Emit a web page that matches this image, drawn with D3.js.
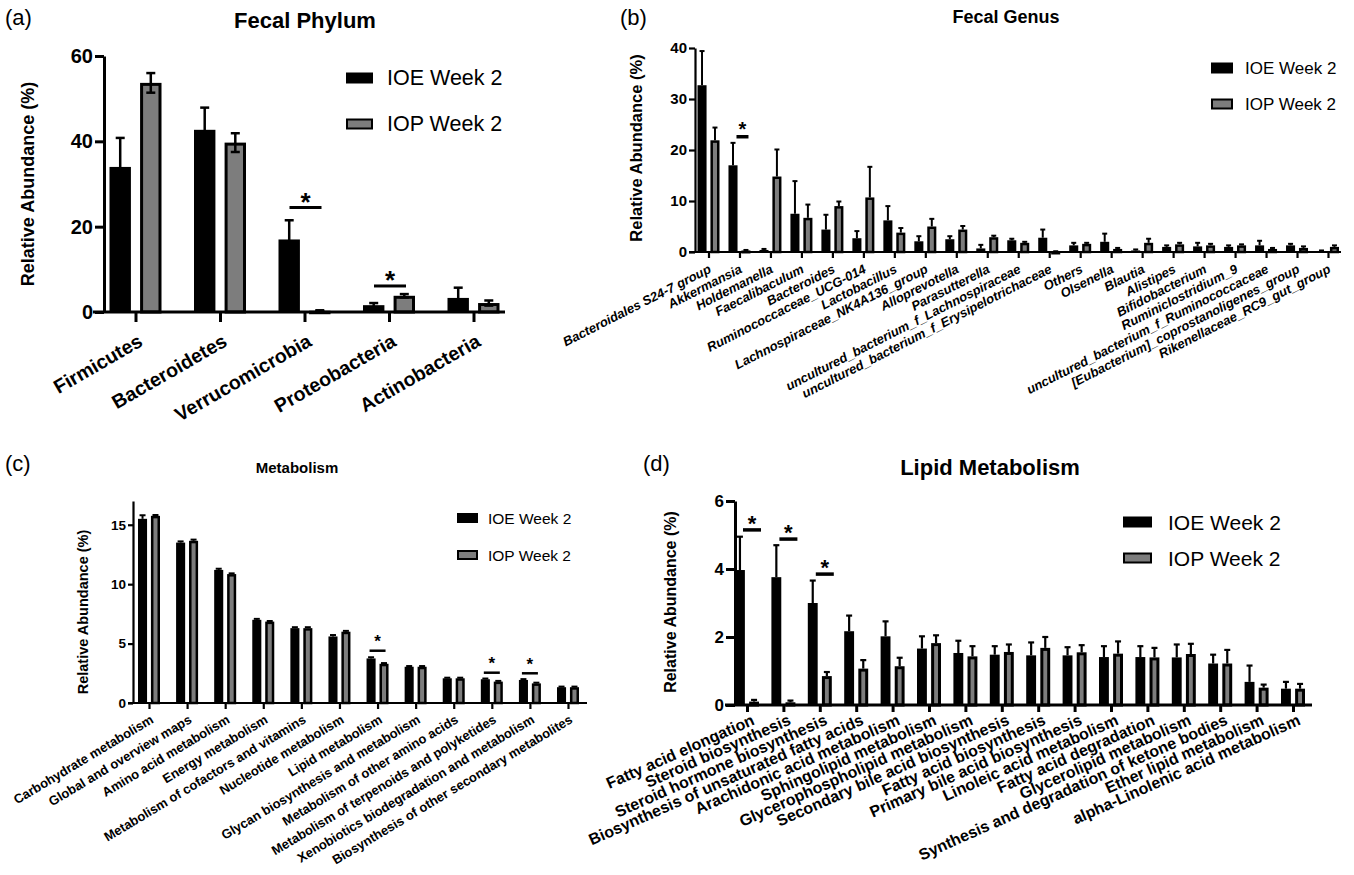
<!DOCTYPE html>
<html>
<head>
<meta charset="utf-8">
<script src="https://cdn.jsdelivr.net/npm/d3@7/dist/d3.min.js"></script>
<style>
  body { margin: 0; background: #fff; }
  svg { font-family: "Liberation Sans", Arial, Helvetica, sans-serif; }
</style>
</head>
<body>
<svg id="fig" width="1354" height="875"></svg>
<script>
var series = ["IOE Week 2", "IOP Week 2"];

// (a) fecal phylum
var phylumCats   = ["Firmicutes", "Bacteroidetes", "Verrucomicrobia", "Proteobacteria", "Actinobacteria"];
var phylumIOE    = [34.0, 42.7, 17.0, 1.6, 3.3];
var phylumIOEErr = [6.8, 5.2, 4.5, 0.5, 2.4];
var phylumIOP    = [53.7, 39.7, 0.3, 3.8, 2.1];
var phylumIOPErr = [2.3, 2.2, 0.1, 0.4, 0.6];
var phylumSig    = [{i: 2, y: 24.5}, {i: 3, y: 6.1}];

// (b) fecal genus
var genusCats = ["Bacteroidales S24-7 group", "Akkermansia", "Holdemanella", "Faecalibaculum", "Bacteroides",
  "Ruminococcaceae_UCG-014", "Lactobacillus", "Lachnospiraceae_NK4A136_group", "Alloprevotella", "Parasutterella",
  "uncultured_bacterium_f_Lachnospiraceae", "uncultured_bacterium_f_Erysipelotrichaceae", "Others", "Olsenella",
  "Blautia", "Alistipes", "Bifidobacterium", "Ruminiclostridium_9", "uncultured_bacterium_f_Ruminococcaceae",
  "[Eubacterium]_coprostanoligenes_group", "Rikenellaceae_RC9_gut_group"];
var genusIOE    = [32.7, 17.0, 0.4, 7.5, 4.4, 2.7, 6.2, 2.1, 2.5, 0.7, 2.3, 2.8, 1.3, 2.0, 0.3, 1.0, 1.1, 1.0, 1.3, 1.3, 0.2];
var genusIOEErr = [6.7, 4.4, 0.2, 6.4, 2.9, 1.4, 2.8, 1.0, 0.6, 0.7, 0.3, 1.6, 0.5, 1.6, 0.2, 0.3, 0.7, 0.3, 0.9, 0.3, 0.1];
var genusIOP    = [21.9, 0.3, 14.8, 6.7, 9.0, 10.7, 3.8, 5.0, 4.4, 2.9, 1.8, 0.1, 1.6, 0.6, 1.8, 1.5, 1.3, 1.3, 0.6, 0.8, 1.0];
var genusIOPErr = [2.5, 0.1, 5.3, 2.6, 0.9, 6.0, 0.9, 1.5, 0.7, 0.3, 0.2, 0.05, 0.2, 0.2, 0.8, 0.3, 0.3, 0.2, 0.2, 0.3, 0.3];
var genusSig    = [{i: 1, y: 22.6}];

// (c) metabolism
var metaCats = ["Carbohydrate metabolism", "Global and overview maps", "Amino acid metabolism", "Energy metabolism",
  "Metabolism of cofactors and vitamins", "Nucleotide metabolism", "Lipid metabolism",
  "Glycan biosynthesis and metabolism", "Metabolism of other amino acids",
  "Metabolism of terpenoids and polyketides", "Xenobiotics biodegradation and metabolism",
  "Biosynthesis of other secondary metabolites"];
var metaIOE    = [15.5, 13.5, 11.2, 7.0, 6.3, 5.6, 3.75, 3.05, 2.08, 2.0, 1.94, 1.33];
var metaIOEErr = [0.3, 0.1, 0.1, 0.08, 0.08, 0.12, 0.1, 0.06, 0.05, 0.06, 0.07, 0.05];
var metaIOP    = [15.75, 13.65, 10.85, 6.85, 6.3, 6.0, 3.3, 3.05, 2.08, 1.8, 1.65, 1.33];
var metaIOPErr = [0.07, 0.1, 0.06, 0.05, 0.08, 0.07, 0.06, 0.06, 0.05, 0.06, 0.06, 0.05];
var metaSig    = [{i: 6, y: 4.4}, {i: 9, y: 2.55}, {i: 10, y: 2.5}];

// (d) lipid metabolism
var lipidCats = ["Fatty acid elongation", "Steroid biosynthesis", "Steroid hormone biosynthesis",
  "Biosynthesis of unsaturated fatty acids", "Arachidonic acid metabolism", "Sphingolipid metabolism",
  "Glycerophospholipid metabolism", "Secondary bile acid biosynthesis", "Fatty acid biosynthesis",
  "Primary bile acid biosynthesis", "Linoleic acid metabolism", "Fatty acid degradation",
  "Glycerolipid metabolism", "Synthesis and degradation of ketone bodies", "Ether lipid metabolism",
  "alpha-Linolenic acid metabolism"];
var lipidIOE    = [3.97, 3.76, 3.0, 2.17, 2.02, 1.66, 1.53, 1.48, 1.46, 1.46, 1.41, 1.41, 1.40, 1.22, 0.68, 0.48];
var lipidIOEErr = [0.98, 0.94, 0.66, 0.46, 0.44, 0.36, 0.36, 0.25, 0.38, 0.24, 0.32, 0.32, 0.38, 0.26, 0.48, 0.2];
var lipidIOP    = [0.1, 0.08, 0.85, 1.07, 1.14, 1.82, 1.43, 1.56, 1.68, 1.55, 1.51, 1.40, 1.50, 1.22, 0.51, 0.48];
var lipidIOPErr = [0.05, 0.05, 0.12, 0.25, 0.25, 0.23, 0.3, 0.22, 0.32, 0.21, 0.36, 0.28, 0.3, 0.4, 0.09, 0.14];
var lipidSig    = [{i: 0, y: 5.15}, {i: 1, y: 4.88}, {i: 2, y: 3.85}];

var GRAY = "#7d7d7d";
var svg = d3.select("#fig");

function drawPanel(o) {
  var g = svg.append("g");
  var y = d3.scaleLinear().domain([0, o.yMax]).range([o.y0, o.y1]);
  var x = d3.scalePoint().domain(o.cats).range([o.xFirst, o.xLast]);
  var x1 = d3.scaleBand().domain(series).range([-o.half, o.half]).paddingInner(o.pad);
  var bw = x1.bandwidth();

  var rows = [];
  o.cats.forEach(function(c, i) {
    rows.push({cat: c, s: series[0], v: o.ioe[i], e: o.ioeErr[i]});
    rows.push({cat: c, s: series[1], v: o.iop[i], e: o.iopErr[i]});
  });

  // bars
  g.selectAll("rect.bar").data(rows).enter().append("rect")
    .attr("class", "bar")
    .attr("x", function(d) { return x(d.cat) + x1(d.s) + (d.s == series[1] ? o.sw / 2 : 0); })
    .attr("width", function(d) { return d.s == series[1] ? Math.max(bw - o.sw, 0.5) : bw; })
    .attr("y", function(d) { return y(d.v) + (d.s == series[1] ? o.sw / 2 : 0); })
    .attr("height", function(d) { return Math.max(o.y0 - y(d.v) - (d.s == series[1] ? o.sw / 2 : 0), 0.5); })
    .attr("fill", function(d) { return d.s == series[1] ? GRAY : "#000"; })
    .attr("stroke", function(d) { return d.s == series[1] ? "#000" : "none"; })
    .attr("stroke-width", o.sw);

  // error bars
  var eb = g.selectAll("g.err").data(rows).enter().append("g").attr("class", "err")
    .attr("stroke", "#000").attr("stroke-width", o.ew);
  eb.append("line")
    .attr("x1", function(d) { return x(d.cat) + x1(d.s) + bw / 2; })
    .attr("x2", function(d) { return x(d.cat) + x1(d.s) + bw / 2; })
    .attr("y1", function(d) { return o.sym ? y(Math.max(d.v - d.e, 0)) : y(d.v); })
    .attr("y2", function(d) { return y(d.v + d.e); });
  eb.append("line")
    .attr("x1", function(d) { return x(d.cat) + x1(d.s) + bw / 2 - o.cap; })
    .attr("x2", function(d) { return x(d.cat) + x1(d.s) + bw / 2 + o.cap; })
    .attr("y1", function(d) { return y(d.v + d.e); })
    .attr("y2", function(d) { return y(d.v + d.e); });
  if (o.sym) {
    eb.filter(function(d) { return d.v - d.e > 0; }).append("line")
      .attr("x1", function(d) { return x(d.cat) + x1(d.s) + bw / 2 - o.cap; })
      .attr("x2", function(d) { return x(d.cat) + x1(d.s) + bw / 2 + o.cap; })
      .attr("y1", function(d) { return y(d.v - d.e); })
      .attr("y2", function(d) { return y(d.v - d.e); });
  }

  // y axis
  var yAxis = g.append("g")
    .attr("transform", "translate(" + o.axX + ",0)")
    .call(d3.axisLeft(y).tickValues(o.yTicks).tickFormat(d3.format("d"))
      .tickSize(o.ytick).tickSizeOuter(0).tickPadding(2));
  yAxis.selectAll("path, line").attr("stroke", "#000").attr("stroke-width", o.aw);
  yAxis.selectAll("text").attr("font-size", o.yfs).attr("font-weight", "bold").attr("fill", "#000");

  // x axis
  var xAxis = g.append("g")
    .attr("transform", "translate(0," + o.y0 + ")")
    .call(d3.axisBottom(x).tickSize(o.xtick).tickSizeOuter(0));
  xAxis.select(".domain").remove();
  xAxis.selectAll("line").attr("stroke", "#000").attr("stroke-width", o.aw);
  xAxis.append("line")
    .attr("x1", o.xStart).attr("x2", o.xEnd)
    .attr("stroke", "#000").attr("stroke-width", o.aw);
  xAxis.selectAll(".tick text")
    .attr("x", 0).attr("y", 0).attr("dy", 0)
    .attr("text-anchor", "end")
    .attr("transform", "translate(" + o.lx + "," + o.ly + ") rotate(" + (-o.angle) + ")")
    .attr("font-size", o.xfs).attr("font-weight", "bold")
    .attr("font-style", o.italic ? "italic" : "normal")
    .attr("fill", "#000");

  // significance marks
  o.sig.forEach(function(s) {
    var cx = x(o.cats[s.i]) + o.sigDx;
    g.append("line")
      .attr("x1", cx - o.sigHalf).attr("x2", cx + o.sigHalf)
      .attr("y1", y(s.y)).attr("y2", y(s.y))
      .attr("stroke", "#000").attr("stroke-width", o.sigW);
    g.append("text")
      .attr("x", cx).attr("y", y(s.y) - o.starOff + 0.58 * o.starFs)
      .attr("text-anchor", "middle")
      .attr("font-size", o.starFs).attr("font-weight", "bold")
      .text("*");
  });

  // y label
  g.append("text")
    .attr("transform", "translate(" + o.ylabX + "," + o.ylabY + ") rotate(-90)")
    .attr("text-anchor", "middle").attr("dominant-baseline", "central")
    .attr("font-size", o.ylabFs).attr("font-weight", "bold")
    .text("Relative Abundance (%)");

  // title and panel letter
  g.append("text").attr("x", o.titleX).attr("y", o.titleY)
    .attr("text-anchor", "middle").attr("font-size", o.titleFs).attr("font-weight", "bold")
    .text(o.title);
  g.append("text").attr("x", o.letterX).attr("y", o.letterY)
    .attr("font-size", 22).text(o.letter);

  // legend
  var leg = g.selectAll("g.leg").data(series).enter().append("g").attr("class", "leg")
    .attr("transform", function(d, i) { return "translate(" + o.legX + "," + (o.legY + i * o.legGap) + ")"; });
  leg.append("rect")
    .attr("x", function(d, i) { return i ? 1 : 0; })
    .attr("y", function(d, i) { return -o.legH / 2 + (i ? 1 : 0); })
    .attr("width", function(d, i) { return o.legW - (i ? 2 : 0); })
    .attr("height", function(d, i) { return o.legH - (i ? 2 : 0); })
    .attr("fill", function(d, i) { return i ? GRAY : "#000"; })
    .attr("stroke", function(d, i) { return i ? "#000" : "none"; })
    .attr("stroke-width", 2);
  leg.append("text")
    .attr("x", o.legW + o.legPad).attr("y", 0)
    .attr("dominant-baseline", "central")
    .attr("font-size", o.legFs)
    .text(function(d) { return d; });
}

drawPanel({
  cats: phylumCats, ioe: phylumIOE, ioeErr: phylumIOEErr, iop: phylumIOP, iopErr: phylumIOPErr, sig: phylumSig,
  yMax: 60, yTicks: [0, 20, 40, 60], y0: 312, y1: 56, axX: 104,
  xFirst: 135.5, xLast: 473.5, half: 26, pad: 0.3, sw: 3, ew: 2.5, cap: 4.5, sym: true,
  ytick: 9, aw: 3, yfs: 20, xtick: 10, xStart: 93, xEnd: 505,
  lx: 8, ly: 33, angle: 30, xfs: 19.5, italic: false,
  sigDx: 1, sigHalf: 16, sigW: 3, starOff: 12, starFs: 26,
  ylabX: 28, ylabY: 184, ylabFs: 18,
  title: "Fecal Phylum", titleX: 305, titleY: 28, titleFs: 22, letter: "(a)", letterX: 5, letterY: 25,
  legX: 346, legY: 78, legGap: 46, legW: 27, legH: 11, legPad: 14, legFs: 21.5
});

drawPanel({
  cats: genusCats, ioe: genusIOE, ioeErr: genusIOEErr, iop: genusIOP, iopErr: genusIOPErr, sig: genusSig,
  yMax: 40, yTicks: [0, 10, 20, 30, 40], y0: 252, y1: 48, axX: 695,
  xFirst: 708.5, xLast: 1328, half: 11, pad: 0.3, sw: 2.5, ew: 2, cap: 2.5, sym: false,
  ytick: 6, aw: 2.2, yfs: 15, xtick: 6, xStart: 689, xEnd: 1341,
  lx: 3, ly: 20, angle: 27, xfs: 13, italic: true,
  sigDx: 3, sigHalf: 6, sigW: 3.5, starOff: 12.5, starFs: 20,
  ylabX: 636, ylabY: 148, ylabFs: 16.5,
  title: "Fecal Genus", titleX: 1006, titleY: 23, titleFs: 18, letter: "(b)", letterX: 620, letterY: 25,
  legX: 1211, legY: 68, legGap: 36, legW: 22, legH: 11, legPad: 12, legFs: 17
});

drawPanel({
  cats: metaCats, ioe: metaIOE, ioeErr: metaIOEErr, iop: metaIOP, iopErr: metaIOPErr, sig: metaSig,
  yMax: 17, yTicks: [0, 5, 10, 15], y0: 703, y1: 501, axX: 133,
  xFirst: 149, xLast: 568, half: 11, pad: 0.3, sw: 2.5, ew: 2, cap: 3, sym: false,
  ytick: 5, aw: 2.2, yfs: 13.5, xtick: 6, xStart: 128, xEnd: 587,
  lx: 5, ly: 19, angle: 31, xfs: 13, italic: false,
  sigDx: 0, sigHalf: 8, sigW: 2.5, starOff: 13.5, starFs: 17,
  ylabX: 83, ylabY: 612, ylabFs: 14.5,
  title: "Metabolism", titleX: 297, titleY: 473, titleFs: 15, letter: "(c)", letterX: 5, letterY: 471,
  legX: 457, legY: 518, legGap: 37, legW: 21, legH: 10, legPad: 10, legFs: 15.5
});

drawPanel({
  cats: lipidCats, ioe: lipidIOE, ioeErr: lipidIOEErr, iop: lipidIOP, iopErr: lipidIOPErr, sig: lipidSig,
  yMax: 6, yTicks: [0, 2, 4, 6], y0: 705, y1: 501, axX: 735,
  xFirst: 747, xLast: 1293, half: 12, pad: 0.3, sw: 3, ew: 2.2, cap: 3, sym: false,
  ytick: 9, aw: 3, yfs: 17, xtick: 7, xStart: 725, xEnd: 1312,
  lx: 8, ly: 19, angle: 24, xfs: 16, italic: false,
  sigDx: 5, sigHalf: 9, sigW: 3.5, starOff: 12, starFs: 22,
  ylabX: 670, ylabY: 602, ylabFs: 16,
  title: "Lipid Metabolism", titleX: 990, titleY: 475, titleFs: 22, letter: "(d)", letterX: 643, letterY: 471,
  legX: 1123, legY: 522, legGap: 36, legW: 29, legH: 11, legPad: 16, legFs: 21
});
</script>
</body>
</html>
